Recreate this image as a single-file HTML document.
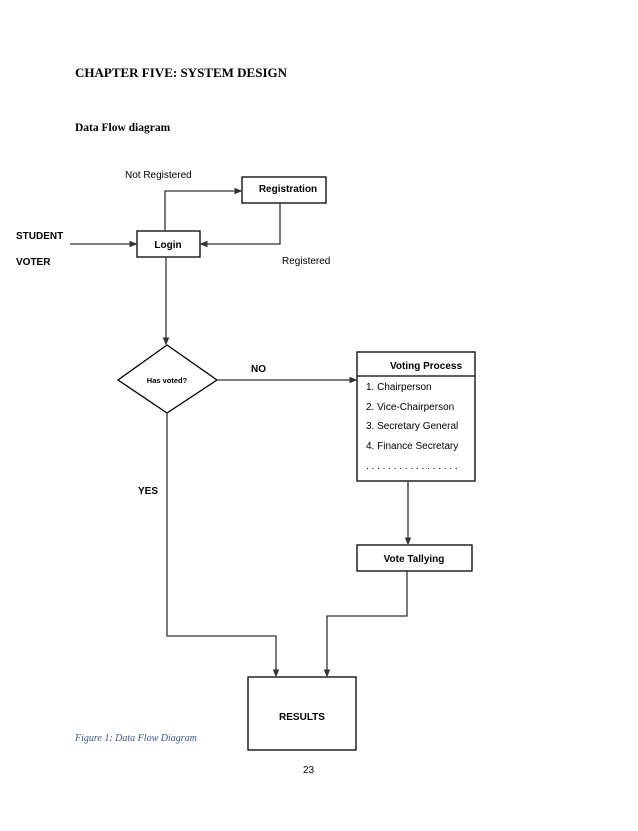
<!DOCTYPE html>
<html><head><style>
body{margin:0;background:#fff;}
</style></head><body>
<svg width="638" height="826" viewBox="0 0 638 826" xmlns="http://www.w3.org/2000/svg">
<defs><marker id="a" markerWidth="6" markerHeight="6" refX="5" refY="3" orient="auto"><path d="M0,0.5 L6,3 L0,5.5z" fill="#333"/></marker></defs>
<rect width="638" height="826" fill="#fff"/>
<text x="75" y="77" style="font-family:'Liberation Serif',serif;font-weight:bold;font-size:13px">CHAPTER FIVE: SYSTEM DESIGN</text>
<text x="75" y="131" style="font-family:'Liberation Serif',serif;font-weight:bold;font-size:11.5px">Data Flow diagram</text>
<g stroke="#333" stroke-width="1.3" fill="none">
<rect x="242" y="177" width="84" height="26" stroke="#000"/>
<rect x="137" y="231" width="63" height="26" stroke="#000"/>
<polygon points="167,345 217,380 167,413 118,380" stroke="#000"/>
<rect x="357" y="352" width="118" height="129" stroke="#000"/>
<line x1="357" y1="376" x2="475" y2="376" stroke="#000"/>
<rect x="357" y="545" width="115" height="26" stroke="#000"/>
<rect x="248" y="677" width="108" height="73" stroke="#000"/>
<line x1="70" y1="244" x2="136" y2="244" marker-end="url(#a)"/>
<polyline points="280,203 280,244 201,244" marker-end="url(#a)"/>
<polyline points="165,231 165,191 241,191" marker-end="url(#a)"/>
<line x1="166" y1="257" x2="166" y2="344" marker-end="url(#a)"/>
<line x1="217" y1="380" x2="356" y2="380" marker-end="url(#a)"/>
<line x1="408" y1="481" x2="408" y2="544" marker-end="url(#a)"/>
<polyline points="167,413 167,636 276,636 276,676" marker-end="url(#a)"/>
<polyline points="407,571 407,616 327,616 327,676" marker-end="url(#a)"/>
</g>
<g style="font-family:'Liberation Sans',sans-serif;font-size:10px" fill="#000">
<text x="125" y="178">Not Registered</text>
<text x="288" y="192" font-weight="bold" text-anchor="middle">Registration</text>
<text x="168" y="248" font-weight="bold" text-anchor="middle">Login</text>
<text x="16" y="239" font-weight="bold">STUDENT</text>
<text x="16" y="265" font-weight="bold">VOTER</text>
<text x="282" y="264">Registered</text>
<text x="167" y="383" style="font-size:7.5px" font-weight="bold" text-anchor="middle">Has voted?</text>
<text x="251" y="372" font-weight="bold">NO</text>
<text x="426" y="369" font-weight="bold" text-anchor="middle">Voting Process</text>
<text x="366" y="390">1. Chairperson</text>
<text x="366" y="410">2. Vice-Chairperson</text>
<text x="366" y="429">3. Secretary General</text>
<text x="366" y="449">4. Finance Secretary</text>
<text x="366" y="469">. . . . . . . . . . . . . . . . .</text>
<text x="138" y="494" font-weight="bold">YES</text>
<text x="414" y="562" font-weight="bold" text-anchor="middle">Vote Tallying</text>
<text x="302" y="720" font-weight="bold" text-anchor="middle">RESULTS</text>
<text x="303" y="773">23</text>
</g>
<text x="75" y="741" style="font-family:'Liberation Serif',serif;font-style:italic;font-size:10px" fill="#3a5a8a">Figure 1: Data Flow Diagram</text>
</svg>
</body></html>
